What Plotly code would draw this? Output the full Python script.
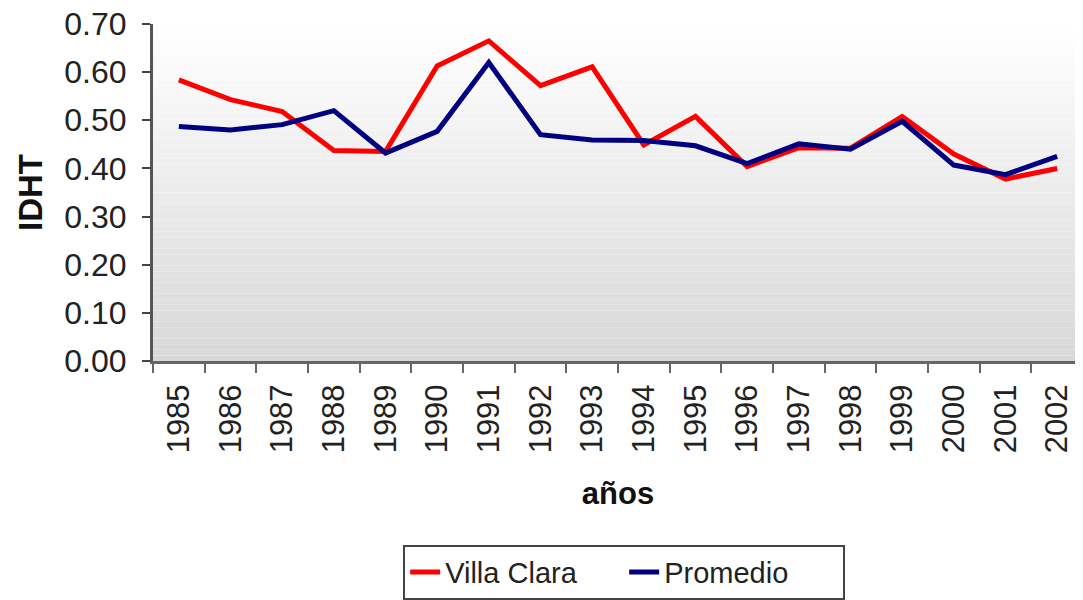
import plotly.graph_objects as go

years = ["1985", "1986", "1987", "1988", "1989", "1990", "1991", "1992", "1993",
         "1994", "1995", "1996", "1997", "1998", "1999", "2000", "2001", "2002"]
villa_clara = [0.584, 0.543, 0.518, 0.437, 0.435, 0.613, 0.665, 0.572, 0.611,
               0.449, 0.508, 0.404, 0.443, 0.442, 0.508, 0.430, 0.378, 0.400]
promedio = [0.487, 0.480, 0.491, 0.520, 0.432, 0.477, 0.620, 0.470, 0.459,
            0.458, 0.447, 0.410, 0.451, 0.440, 0.498, 0.407, 0.387, 0.425]
y_ticks = [0.0, 0.1, 0.2, 0.3, 0.4, 0.5, 0.6, 0.7]

FONT = "Liberation Sans, Arial, sans-serif"

fig = go.Figure()
fig.add_trace(go.Scatter(x=years, y=villa_clara, mode="lines", name="Villa Clara",
                         line=dict(color="#ff0000", width=5)))
fig.add_trace(go.Scatter(x=years, y=promedio, mode="lines", name="Promedio",
                         line=dict(color="#000080", width=5)))

# gradient plot background (white top -> light gray bottom)
n = 60
shapes = []
for i in range(n):
    t = i / (n - 1)  # 0 bottom, 1 top
    c = int(round(216 + (255 - 216) * t))
    shapes.append(dict(type="rect", xref="paper", yref="paper",
                       x0=0, x1=1, y0=i / n, y1=(i + 1) / n,
                       fillcolor=f"rgb({c},{c},{c})", line=dict(width=0),
                       layer="below"))

fig.update_layout(
    width=1075, height=592,
    margin=dict(l=145, r=0, t=16, b=239, autoexpand=False),
    paper_bgcolor="white", plot_bgcolor="white",
    shapes=shapes,
    font=dict(family=FONT, color="#222222", size=30),
    showlegend=True,
    legend=dict(orientation="h", x=0.269, xanchor="left", y=-0.545, yanchor="top",
                bordercolor="#444444", borderwidth=2, bgcolor="white",
                font=dict(size=29, family=FONT, color="#222222"),
                entrywidth=174, entrywidthmode="pixels", tracegroupgap=0),
    xaxis=dict(type="category", range=[-0.5, 17.5], tickson="boundaries",
               ticks="outside", ticklen=9, tickwidth=2, tickcolor="#666666",
               showline=True, linecolor="#666666", linewidth=3,
               showgrid=False, zeroline=False, tickangle=-90, automargin=False,
               ticklabelstandoff=8,
               tickfont=dict(size=31, family=FONT, color="#222222"),
               title=dict(text="<b>años</b>", font=dict(size=31, family=FONT, color="#111111"),
                          standoff=30)),
    yaxis=dict(range=[0, 0.7], tickvals=y_ticks, tickformat=".2f",
               ticks="outside", ticklen=8, tickwidth=2, tickcolor="#444444",
               showline=True, linecolor="#555555", linewidth=3,
               showgrid=False, zeroline=False, ticklabelstandoff=9, automargin=False,
               ticklabeloverflow="allow",
               tickfont=dict(size=32, family=FONT, color="#222222"),
               title=dict(text="<b>IDHT</b>", font=dict(size=33, family=FONT, color="#111111"),
                          standoff=12)),
)

fig.write_html("out.html")
